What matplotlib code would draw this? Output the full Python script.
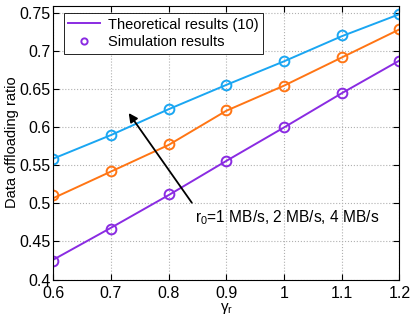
import numpy as np
import matplotlib.pyplot as plt

plt.rcParams['font.family'] = ['Liberation Sans', 'DejaVu Sans']

# data
gamma_r = [0.6, 0.7, 0.8, 0.9, 1.0, 1.1, 1.2]

theory_1mb = [0.426, 0.468, 0.511, 0.556, 0.600, 0.645, 0.688]
theory_2mb = [0.507, 0.542, 0.577, 0.622, 0.655, 0.692, 0.729]
theory_4mb = [0.559, 0.590, 0.624, 0.656, 0.687, 0.720, 0.749]

sim_1mb = [0.424, 0.467, 0.512, 0.556, 0.601, 0.645, 0.688]
sim_2mb = [0.511, 0.543, 0.578, 0.623, 0.655, 0.693, 0.730]
sim_4mb = [0.559, 0.590, 0.624, 0.656, 0.688, 0.721, 0.749]

colors = ['#8a2be2', '#ff7514', '#1aa6f2']

fig, ax = plt.subplots(figsize=(4.16, 3.25), dpi=100)
fig.subplots_adjust(left=0.128, right=0.96, top=0.982, bottom=0.14)

for th, sim, c in zip([theory_1mb, theory_2mb, theory_4mb],
                      [sim_1mb, sim_2mb, sim_4mb], colors):
    ax.plot(gamma_r, th, '-', color=c, lw=1.4)
    ax.plot(gamma_r, sim, 'o', color=c, mfc='none', mew=1.4, ms=7)

# legend proxies
h1, = ax.plot([], [], '-', color=colors[0], lw=1.4)
h2, = ax.plot([], [], 'o', color=colors[0], mfc='none', mew=1.4, ms=4.5)
leg = ax.legend([h1, h2], ['Theoretical results (10)', 'Simulation results'],
                loc='upper left', fontsize=10.5, fancybox=False, framealpha=1,
                borderaxespad=0.5, handlelength=2.2, handletextpad=0.5,
                labelspacing=0.25, borderpad=0.3,
                bbox_to_anchor=(0.01, 1.0))
leg.get_frame().set_edgecolor('black')
leg.get_frame().set_linewidth(0.6)

ax.annotate('', xy=(0.728, 0.622), xytext=(0.843, 0.498),
            arrowprops=dict(arrowstyle='-|>', color='black', lw=1.3,
                            mutation_scale=13))
ax.text(0.846, 0.482, r'r$_{\mathregular{0}}$=1 MB/s, 2 MB/s, 4 MB/s', fontsize=11.2,
        va='center', ha='left')

ax.set_xlim(0.6, 1.2)
ax.set_ylim(0.4, 0.76)
ax.set_xticks([0.6, 0.7, 0.8, 0.9, 1.0, 1.1, 1.2])
ax.set_xticklabels(['0.6', '0.7', '0.8', '0.9', '1', '1.1', '1.2'])
ax.set_yticks([0.4, 0.45, 0.5, 0.55, 0.6, 0.65, 0.7, 0.75])
ax.set_yticklabels(['0.4', '0.45', '0.5', '0.55', '0.6', '0.65', '0.7', '0.75'])
ax.tick_params(direction='in', labelsize=11.5, length=4, top=True, right=True)
ax.tick_params(axis='x', pad=5)
ax.tick_params(axis='y', pad=2)
ax.grid(True, linestyle=':', color='#b0b0b0', lw=0.8)
for s in ax.spines.values():
    s.set_linewidth(0.8)

ax.set_xlabel(r'$\mathregular{\gamma_r}$', fontsize=11, labelpad=0)
ax.set_ylabel('Data offloading ratio', fontsize=10.5, labelpad=0)

fig.savefig('out.png', dpi=100)
